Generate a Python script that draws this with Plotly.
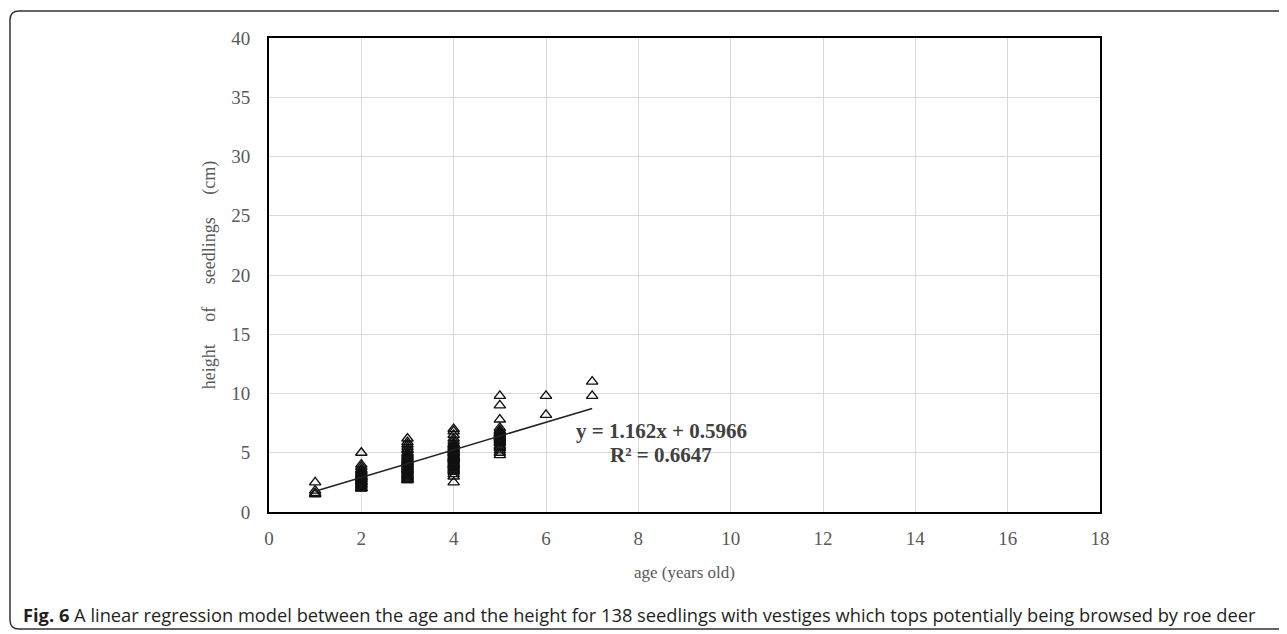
import plotly.graph_objects as go

# ---- data ----
age1 = [1.5, 1.6, 1.8, 2.5]
age2 = [5.0, 4.0, 3.8, 3.6, 3.5, 3.4, 3.3, 3.2, 3.1, 3.0, 3.0, 2.9, 2.9, 2.8, 2.8,
        2.7, 2.6, 2.6, 2.5, 2.5, 2.4, 2.3, 2.3, 2.2, 2.1, 2.0, 2.0, 2.0]
age3 = [6.2, 5.9, 5.7, 5.5, 5.3, 5.2, 5.0, 4.9, 4.8, 4.7, 4.6, 4.5, 4.4, 4.3, 4.2,
        4.2, 4.1, 4.0, 4.0, 3.9, 3.8, 3.8, 3.7, 3.6, 3.5, 3.5, 3.4, 3.3, 3.2, 3.2,
        3.1, 3.0, 3.0, 2.9, 2.8, 2.8, 2.7, 2.7, 4.4, 3.6]
age4 = [7.0, 6.8, 6.5, 6.2, 6.0, 5.8, 5.7, 5.6, 5.5, 5.4, 5.3, 5.2, 5.1, 5.0, 5.0,
        4.9, 4.8, 4.7, 4.6, 4.5, 4.5, 4.4, 4.3, 4.2, 4.1, 4.0, 4.0, 3.9, 3.8, 3.7,
        3.6, 3.5, 3.4, 3.2, 3.0, 2.5, 5.2, 4.6]
age5 = [9.8, 9.0, 7.8, 7.1, 6.9, 6.8, 6.7, 6.6, 6.5, 6.4, 6.3, 6.2, 6.1, 6.0, 5.9,
        5.8, 5.6, 5.5, 5.4, 5.2, 5.0, 4.8, 6.6, 6.3]
age6 = [9.8, 8.2]
age7 = [11.0, 9.8]

ages = [1] * len(age1) + [2] * len(age2) + [3] * len(age3) + [4] * len(age4) + \
       [5] * len(age5) + [6] * len(age6) + [7] * len(age7)
heights = age1 + age2 + age3 + age4 + age5 + age6 + age7

slope = 1.162
intercept = 0.5966
r2 = 0.6647
fit_x = [1, 7]

x_ticks = [0, 2, 4, 6, 8, 10, 12, 14, 16, 18]
y_ticks = [0, 5, 10, 15, 20, 25, 30, 35, 40]

x_title = "age (years old)"
gap = "&nbsp;" * 5
y_title = "height" + gap + "of" + gap + "seedlings" + gap + "(cm)"
caption_bold = "Fig. 6"
caption_text = (" A linear regression model between the age and the height for 138 seedlings "
                "with vestiges which tops potentially being browsed by roe deer")

# ---- figure ----
fig = go.Figure()
fig.add_trace(go.Scatter(
    x=ages, y=heights, mode="markers",
    marker=dict(symbol="triangle-up-open", size=10, color="#111111", line=dict(width=1.4)),
    showlegend=False, hoverinfo="x+y"))
fig.add_trace(go.Scatter(
    x=fit_x, y=[slope * v + intercept for v in fit_x], mode="lines",
    line=dict(color="#222222", width=1.5), showlegend=False))

OFF = 8  # default page body margin
W, H = 1287 - OFF, 634 - OFF
L, R, T, B = 269 - OFF, 1100 - OFF, 38 - OFF, 512 - OFF
pw, ph = R - L, B - T


def px(xp):
    return (xp - OFF - L) / pw


def py(yp):
    return (B - (yp - OFF)) / ph


serif = "Liberation Serif, Times New Roman, serif"

fig.update_layout(
    width=W, height=H,
    margin=dict(l=L, r=W - R, t=T, b=H - B),
    paper_bgcolor="white", plot_bgcolor="white",
    font=dict(family=serif, color="#595959"),
    xaxis=dict(range=[0, 18], tickvals=x_ticks, showgrid=True, gridcolor="#d9d9d9",
               gridwidth=1, zeroline=False, showline=True, linecolor="black", linewidth=2,
               mirror=True, tickfont=dict(family=serif, size=19, color="#595959"),
               ticks="", ticklabelstandoff=8,
               title=dict(text=x_title, font=dict(family=serif, size=17, color="#595959"),
                          standoff=18)),
    yaxis=dict(range=[0, 40], tickvals=y_ticks, showgrid=True, gridcolor="#d9d9d9",
               gridwidth=1, zeroline=False, showline=True, linecolor="black", linewidth=2,
               mirror=True, tickfont=dict(family=serif, size=19, color="#595959"),
               ticks="", ticklabelstandoff=13,
               title=dict(text=y_title, font=dict(family=serif, size=18, color="#595959"),
                          standoff=11)),
)

fig.add_annotation(x=8.5, y=6.8, xref="x", yref="y",
                   text="<b>y = 1.162x + 0.5966</b>", showarrow=False,
                   font=dict(family=serif, size=21, color="#404040"))
fig.add_annotation(x=8.5, y=4.85, xref="x", yref="y",
                   text="<b>R² = 0.6647</b>", showarrow=False,
                   font=dict(family=serif, size=21, color="#404040"))

# caption
fig.add_annotation(x=px(21), y=py(614), xref="paper", yref="paper",
                   xanchor="left", yanchor="middle", showarrow=False,
                   text="<b>" + caption_bold + "</b>" + caption_text,
                   font=dict(family="Open Sans, Noto Sans, sans-serif",
                             size=18.3, color="#231f20"))

# outer rounded frame (open on the right)
x0, x1 = px(10), px(1300)
y0, y1 = py(11), py(629)
rx, ry = 9 / pw, 9 / ph
path = (f"M {x1},{y0} L {x0 + rx},{y0} Q {x0},{y0} {x0},{y0 - ry} "
        f"L {x0},{y1 + ry} Q {x0},{y1} {x0 + rx},{y1} L {x1},{y1}")
fig.add_shape(type="path", path=path, xref="paper", yref="paper",
              line=dict(color="#333333", width=1.5))

fig.write_html("out.html")
